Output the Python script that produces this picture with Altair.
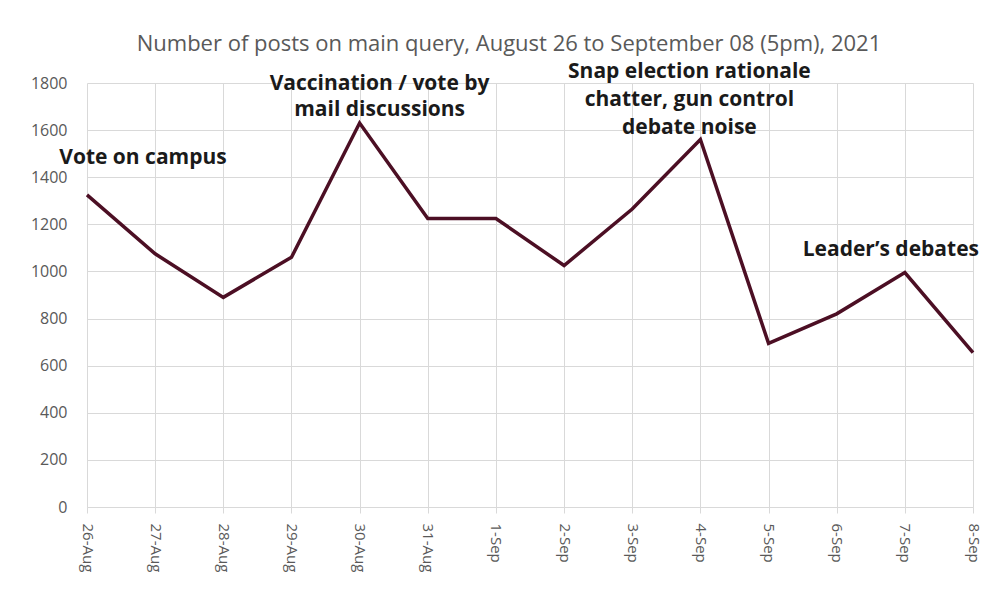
import altair as alt
import pandas as pd

dates = ["26-Aug", "27-Aug", "28-Aug", "29-Aug", "30-Aug", "31-Aug", "1-Sep",
         "2-Sep", "3-Sep", "4-Sep", "5-Sep", "6-Sep", "7-Sep", "8-Sep"]
posts = [1325, 1075, 890, 1060, 1630, 1225, 1225, 1025, 1265, 1560, 695, 820, 995, 655]

note_lines = ["Vote on campus",
              "Vaccination / vote by", "mail discussions",
              "Snap election rationale", "chatter, gun control", "debate noise",
              "Leader\u2019s debates"]
note_dates = ["26-Aug", "30-Aug", "30-Aug", "4-Sep", "4-Sep", "4-Sep", "7-Sep"]
note_y = [1482, 1797, 1685, 1848, 1728, 1609, 1091]
note_group = ["a", "b", "b", "c", "c", "c", "d"]

title_text = "Number of posts on main query, August 26 to September 08 (5pm), 2021"

df = pd.DataFrame({"date": dates, "posts": posts})
notes = pd.DataFrame({"date": note_dates, "y": note_y, "text": note_lines, "g": note_group})

FONT = "Open Sans"
GRAY = "#595959"
GRID = "#d9d9d9"

x = alt.X("date:N", sort=dates, scale=alt.Scale(padding=0), title=None,
          axis=alt.Axis(labelAngle=90, labelColor=GRAY, labelFontSize=15, labelFont=FONT,
                        grid=True, gridColor=GRID, tickColor=GRID, tickSize=6,
                        domainColor=GRID, labelPadding=10))
y = alt.Y("posts:Q", scale=alt.Scale(domain=[0, 1800], nice=False), title=None,
          axis=alt.Axis(values=list(range(0, 1801, 200)), format="d", labelColor=GRAY,
                        labelFontSize=16, labelFont=FONT, domain=False, ticks=False,
                        gridColor=GRID, labelPadding=20))

line = alt.Chart(df).mark_line(color="#4c0f24", strokeWidth=3.5, strokeJoin="miter").encode(x=x, y=y)

def note(group, dx):
    return alt.Chart(notes[notes.g == group]).mark_text(
        font=FONT, fontSize=21, fontWeight="bold", color="#1a1a1a",
        align="center", baseline="middle", dx=dx
    ).encode(x=alt.X("date:N", sort=dates), y=alt.Y("y:Q"), text="text:N")

title = alt.Chart(pd.DataFrame({"t": [title_text]})).mark_text(
    font=FONT, fontSize=22, color=GRAY, align="center", baseline="middle"
).encode(x=alt.value(422), y=alt.value(-39), text="t:N")

chart = alt.layer(line, note("a", 56), note("b", 20), note("c", -11), note("d", -14), title).properties(
    width=886, height=424,
    autosize=alt.AutoSizeParams(type="none"),
    padding={"left": 79, "top": 75, "right": 12, "bottom": 74},
).configure_view(stroke=None)

chart.save("out.html", embed_options={"renderer": "svg", "actions": False})
